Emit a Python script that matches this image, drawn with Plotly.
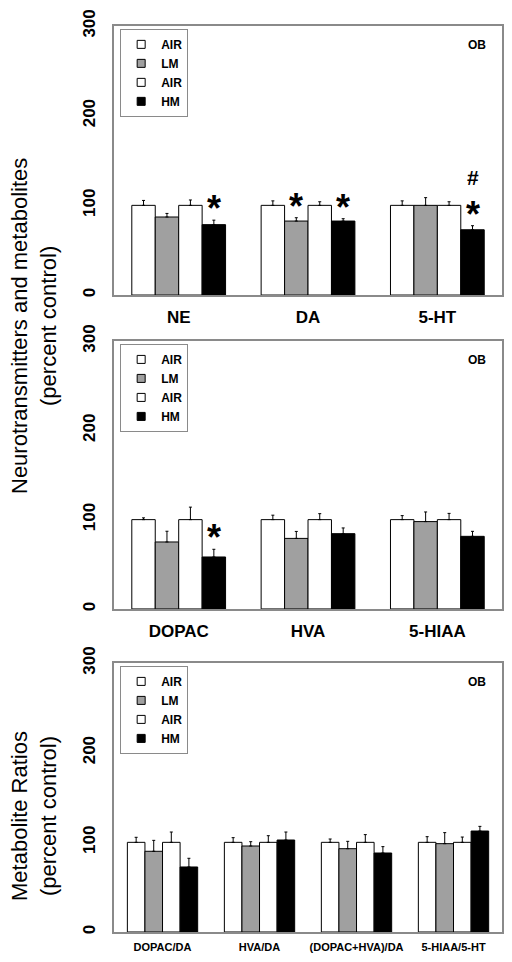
import plotly.graph_objects as go

# ---------------- data ----------------
series_names = ["AIR", "LM", "AIR", "HM"]
series_colors = ["#ffffff", "#a0a0a0", "#ffffff", "#000000"]

top_categories = ["NE", "DA", "5-HT"]
top_air1 = [100, 100, 100]
top_lm = [87, 82.5, 100]
top_air2 = [100, 100, 100]
top_hm = [78.5, 82.5, 72.8]
top_air1_err = [5.5, 5, 5]
top_lm_err = [4, 3.7, 8.6]
top_air2_err = [6, 4, 4]
top_hm_err = [5, 2.6, 4.5]

mid_categories = ["DOPAC", "HVA", "5-HIAA"]
mid_air1 = [100, 100, 100]
mid_lm = [75, 79, 97.8]
mid_air2 = [100, 100, 100]
mid_hm = [58.2, 84.3, 81.3]
mid_air1_err = [2, 5, 4.5]
mid_lm_err = [12, 7.8, 10.8]
mid_air2_err = [14, 6.7, 7]
mid_hm_err = [8.6, 6.4, 5.6]

bot_categories = ["DOPAC/DA", "HVA/DA", "(DOPAC+HVA)/DA", "5-HIAA/5-HT"]
bot_air1 = [100, 100, 100, 100]
bot_lm = [90, 95.9, 92.9, 98.5]
bot_air2 = [100, 100, 100, 100]
bot_hm = [72.5, 102.6, 88.1, 112.6]
bot_air1_err = [5.6, 5.2, 3.7, 6.3]
bot_lm_err = [12.2, 4.8, 8.2, 12.3]
bot_air2_err = [11.5, 7.4, 8.6, 5.9]
bot_hm_err = [9.7, 8.9, 7.1, 5.2]

# significance marks: (category index, series index, symbols bottom->top)
top_marks = [(0, 3, ["*"]), (1, 1, ["*"]), (1, 3, ["*"]), (2, 3, ["*", "#"])]
mid_marks = [(0, 3, ["*"])]
bot_marks = []

y_ticks = [0, 100, 200, 300]

# ---------------- styling ----------------
FONT = "Liberation Sans, Arial, sans-serif"
BARGAP = 0.275
FRAME = "#8a8a8a"

panels = [
    dict(cats=top_categories,
         vals=[top_air1, top_lm, top_air2, top_hm],
         errs=[top_air1_err, top_lm_err, top_air2_err, top_hm_err],
         marks=top_marks, dom=[0.6933, 0.973], catsize=17),
    dict(cats=mid_categories,
         vals=[mid_air1, mid_lm, mid_air2, mid_hm],
         errs=[mid_air1_err, mid_lm_err, mid_air2_err, mid_hm_err],
         marks=mid_marks, dom=[0.367, 0.6455], catsize=17),
    dict(cats=bot_categories,
         vals=[bot_air1, bot_lm, bot_air2, bot_hm],
         errs=[bot_air1_err, bot_lm_err, bot_air2_err, bot_hm_err],
         marks=bot_marks, dom=[0.0312, 0.3108], catsize=11),
]

fig = go.Figure()
annotations = []
layout = dict(
    width=512, height=962,
    margin=dict(l=0, r=0, t=0, b=0, autoexpand=False),
    paper_bgcolor="white", plot_bgcolor="white",
    barmode="group", bargap=BARGAP, bargroupgap=0,
    font=dict(family=FONT, color="black"),
    showlegend=True,
)

for p, panel in enumerate(panels):
    k = "" if p == 0 else str(p + 1)
    xa, ya = "x" + k, "y" + k
    leg = "legend" + k
    for s in range(4):
        fig.add_trace(go.Bar(
            x=panel["cats"], y=panel["vals"][s],
            name=series_names[s],
            marker=dict(color=series_colors[s], line=dict(color="black", width=1)),
            error_y=dict(type="data", array=panel["errs"][s], symmetric=False,
                         arrayminus=[0] * len(panel["cats"]),
                         color="black", thickness=1, width=1.5),
            xaxis=xa, yaxis=ya, showlegend=False,
        ))
    # legend entries (small square swatches)
    for s in range(4):
        fig.add_trace(go.Scatter(
            x=[None], y=[None], mode="markers", name=series_names[s],
            marker=dict(symbol="square", size=8, color=series_colors[s],
                        line=dict(color="black", width=1)),
            xaxis=xa, yaxis=ya, legend=leg, showlegend=True, hoverinfo="skip",
        ))
    layout["xaxis" + k] = dict(
        domain=[0.2227, 0.9805], anchor=ya, automargin=False,
        showline=True, mirror=True, linecolor=FRAME, linewidth=1.5,
        ticks="", showgrid=False, zeroline=False,
        tickfont=dict(family=FONT, size=panel["catsize"], weight="bold"),
        ticklabelstandoff=6 if p < 2 else 4,
        fixedrange=True,
    )
    layout["yaxis" + k] = dict(
        domain=panel["dom"], anchor=xa, range=[0, 300], automargin=False,
        tickvals=y_ticks, ticktext=[str(t) for t in y_ticks],
        showline=True, mirror=True, linecolor=FRAME, linewidth=1.5,
        ticks="", showgrid=False, zeroline=False,
        tickangle=-90,
        tickfont=dict(family=FONT, size=17, weight="bold"),
        ticklabelstandoff=10,
        fixedrange=True,
    )
    layout[leg] = dict(
        x=0.2227 + 0.012, y=panel["dom"][1] - 0.003,
        xanchor="left", yanchor="top",
        bgcolor="white", bordercolor=FRAME, borderwidth=1,
        font=dict(family=FONT, size=12, weight="bold"),
        itemwidth=30, tracegroupgap=0,
    )

    # OB label
    annotations.append(dict(
        text="OB", x=0.936, y=0.929, xref=xa + " domain", yref=ya + " domain",
        xanchor="center", yanchor="middle",
        showarrow=False, font=dict(family=FONT, size=12, weight="bold"),
    ))
    # significance marks
    slot = (1 - BARGAP) / 4
    for ci, si, syms in panel["marks"]:
        top = panel["vals"][si][ci] + panel["errs"][si][ci]
        for n, sym in enumerate(syms):
            annotations.append(dict(
                text=sym, x=ci + (si - 1.5) * slot, y=top,
                xref=xa, yref=ya, showarrow=False,
                xanchor="center", yanchor="bottom",
                yshift=(-11 if sym == "*" else 0) + n * 35,
                font=dict(family=FONT, size=36 if sym == "*" else 21, weight="bold"),
            ))

# y axis titles
annotations.append(dict(
    text="Neurotransmitters and metabolites<br>(percent control)",
    x=34 / 512, y=1 - 326 / 962, xref="paper", yref="paper",
    xanchor="center", yanchor="middle",
    showarrow=False, textangle=-90,
    font=dict(family=FONT, size=22, color="black"),
))
annotations.append(dict(
    text="Metabolite Ratios<br>(percent control)",
    x=34 / 512, y=1 - 816 / 962, xref="paper", yref="paper",
    xanchor="center", yanchor="middle",
    showarrow=False, textangle=-90,
    font=dict(family=FONT, size=22, color="black"),
))

layout["annotations"] = annotations
fig.update_layout(**layout)
fig.write_html("out.html",
               config={"displayModeBar": False},
               post_script="document.body.style.margin='0';document.body.style.padding='0';")
